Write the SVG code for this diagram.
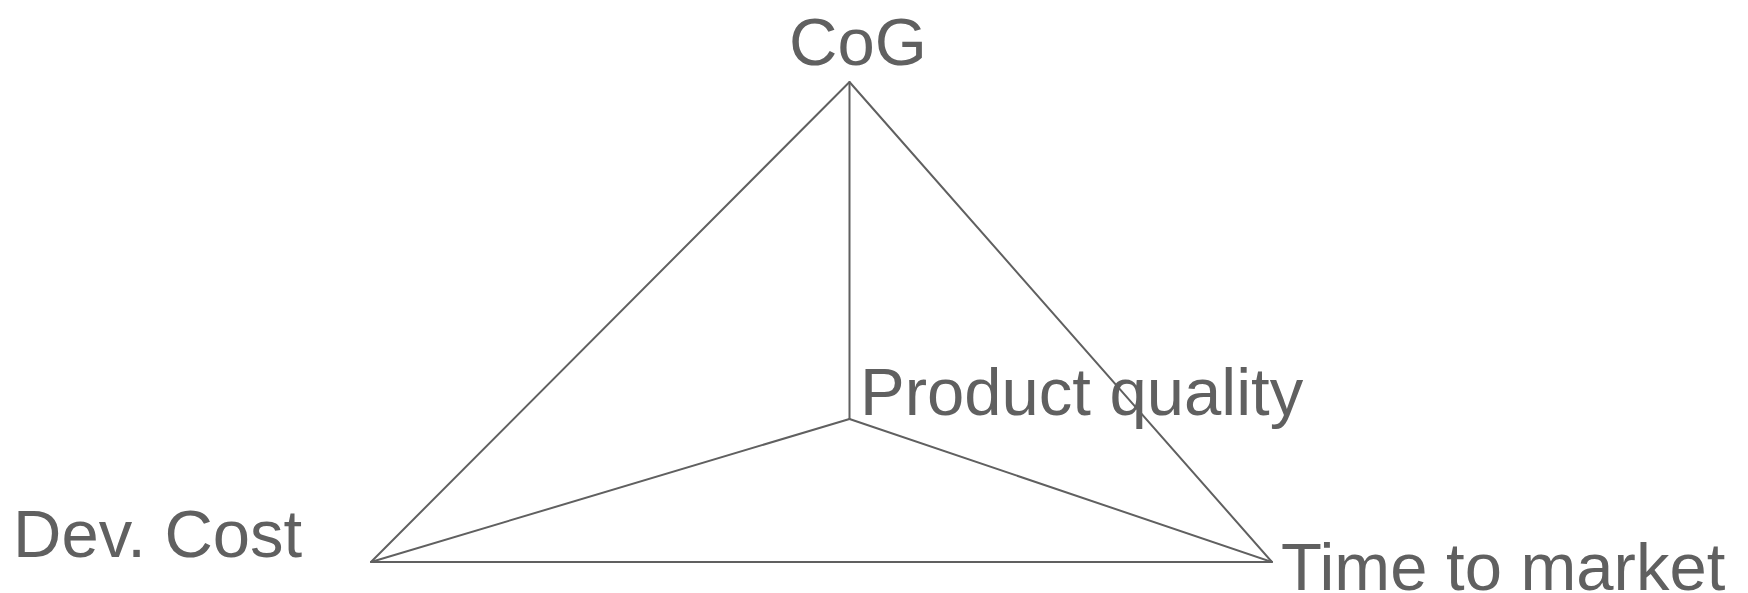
<svg xmlns="http://www.w3.org/2000/svg" width="1748" height="593" viewBox="0 0 1748 593">
  <style>
    .edge { stroke: #606060; stroke-width: 2; fill: none; stroke-linecap: round; stroke-linejoin: round; }
    .label { font-family: "Liberation Sans", Arial, sans-serif; font-size: 67px; fill: #606060; }
  </style>
  <rect width="1748" height="593" fill="#ffffff"/>
  <g id="connectors">
    <polygon class="edge" points="849.5,82 371,562 1272,562"/>
    <line class="edge" x1="849.5" y1="82" x2="849.5" y2="419"/>
    <line class="edge" x1="849.5" y1="419" x2="371" y2="562"/>
    <line class="edge" x1="849.5" y1="419" x2="1272" y2="562"/>
  </g>
  <g id="node-cog">
    <text class="label" x="789" y="65">CoG</text>
  </g>
  <g id="node-quality">
    <text class="label" x="860" y="415">Product quality</text>
  </g>
  <g id="node-devcost">
    <text class="label" x="13" y="557">Dev. Cost</text>
  </g>
  <g id="node-ttm">
    <text class="label" x="1281" y="590">Time to market</text>
  </g>
</svg>
